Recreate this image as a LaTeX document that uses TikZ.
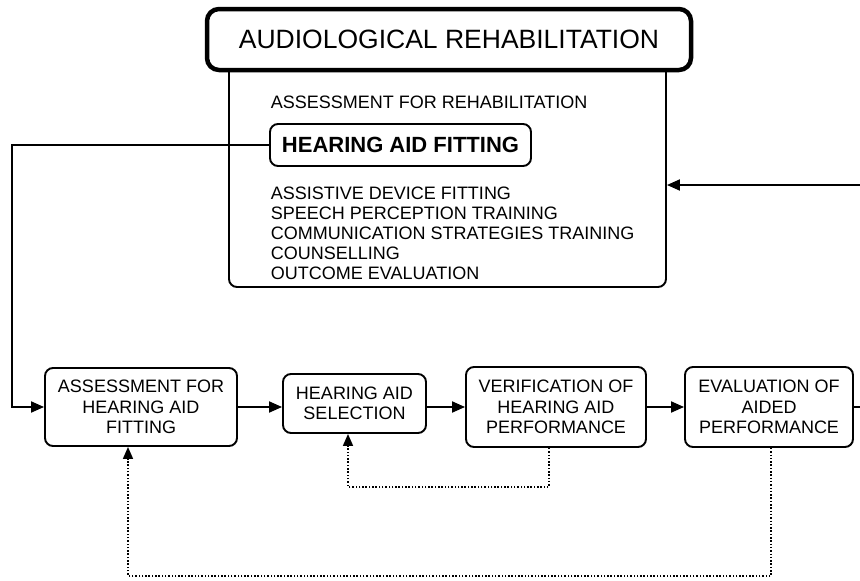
\documentclass[tikz,border=0pt]{standalone}
\usepackage{fontspec}
\setmainfont{Liberation Sans}
\usetikzlibrary{arrows.meta,positioning}

\begin{document}
\begin{tikzpicture}[
        x=1pt, y=-1pt,
        >={Triangle[length=13pt,width=11pt]},
        line width=1.9pt,
        box/.style={draw, rounded corners=8pt, align=center, inner sep=0pt,
                    font=\fontsize{18}{20.5}\selectfont},
        fb/.style={->, >={Triangle[length=12pt,width=10pt]}, dash pattern=on 1.5pt off 1.8pt, line width=1.7pt}
        ]
        \useasboundingbox (0,0) rectangle (860,581);

        \node[draw, rounded corners=8pt, minimum width=437pt, minimum height=230pt] (rehab) at (447.5,172) {};
        \node[draw, fill=white, line width=4.5pt, rounded corners=12pt, minimum width=484pt, minimum height=61pt,
              font=\fontsize{26.5}{30}\selectfont] (title) at (449,39.5) {AUDIOLOGICAL REHABILITATION};

        \node[anchor=west, inner sep=0pt, font=\fontsize{18}{20}\selectfont] (afr) at (270,102) {ASSESSMENT FOR REHABILITATION};
        \node[draw, rounded corners=8pt, minimum width=261pt, minimum height=42pt,
              font=\bfseries\fontsize{22}{24}\selectfont] (haf) at (400.5,145) {HEARING AID FITTING};
        \node[anchor=north west, inner sep=0pt, align=left, font=\fontsize{18}{20}\selectfont] (others) at (270,185.5)
              {ASSISTIVE DEVICE FITTING\\ SPEECH PERCEPTION TRAINING\\ COMMUNICATION STRATEGIES TRAINING\\ COUNSELLING\\ OUTCOME EVALUATION};

        \node[box, minimum width=192pt, minimum height=78pt] (ahf) at (141,407) {ASSESSMENT FOR\\ HEARING AID\\ FITTING};
        \node[box, minimum width=143pt, minimum height=59pt] (sel) at (354.5,403.5) {HEARING AID\\ SELECTION};
        \node[box, minimum width=180pt, minimum height=80pt] (ver) at (556,407) {VERIFICATION OF\\ HEARING AID\\ PERFORMANCE};
        \node[box, minimum width=168pt, minimum height=80pt] (eva) at (769,407) {EVALUATION OF\\ AIDED\\ PERFORMANCE};

        \coordinate (rin) at (860,185);
        \coordinate (rout) at (860,407);
        \coordinate (lft) at (12,145);

        \draw[->] (rin) -- (rin -| rehab.east);
        \draw[->] (haf.west) -- (lft) |- (ahf.west);
        \draw[->] (ahf.east) -- (ahf.east -| sel.west);
        \draw[->] (ahf.east -| sel.east) -- (ver.west);
        \draw[->] (ver) -- (eva);
        \draw (eva.east) -- (rout);

        \draw[fb] ([xshift=-7pt]ver.south) -- ++(0,39) -| ([xshift=-6.5pt]sel.south);
        \draw[fb] ([xshift=2pt]eva.south) -- ++(0,128) -| ([xshift=-13pt]ahf.south);
\end{tikzpicture}
\end{document}
